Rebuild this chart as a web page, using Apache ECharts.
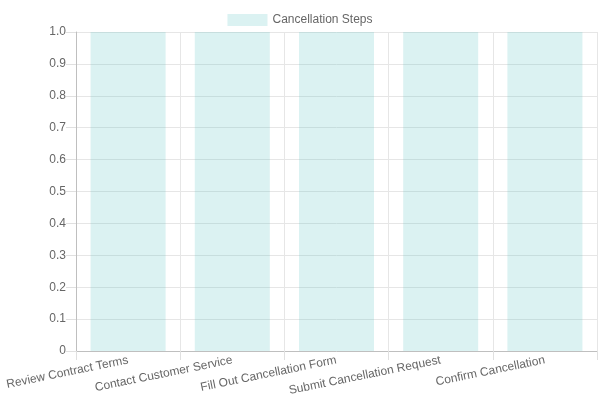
<!DOCTYPE html>
<html>
<head>
<meta charset="utf-8">
<script src="https://cdn.jsdelivr.net/npm/echarts@6/dist/echarts.min.js"></script>
<style>html,body{margin:0;padding:0;background:#fff}#c{width:600px;height:400px}</style>
</head>
<body>
<div id="c"></div>
<script>
const categories = ["Review Contract Terms", "Contact Customer Service", "Fill Out Cancellation Form", "Submit Cancellation Request", "Confirm Cancellation"];
const seriesName = "Cancellation Steps";
const values = [1, 1, 1, 1, 1];

const chart = echarts.init(document.getElementById('c'), null, {renderer: 'canvas'});
const font = 'Liberation Sans, Arial, Helvetica, sans-serif';
chart.setOption({
  animation: false,
  textStyle: {fontFamily: font},
  legend: {
    top: 9, left: 'center',
    itemWidth: 40, itemHeight: 12, itemGap: 10,
    icon: 'rect',
    textStyle: {color: '#666', fontSize: 12, fontFamily: font},
    data: [seriesName]
  },
  grid: {left: 76, right: 3, top: 32, bottom: 49, containLabel: false},
  xAxis: {
    type: 'category',
    data: categories,
    boundaryGap: true,
    axisLine: {show: true, lineStyle: {color: '#bfbfbf'}},
    axisTick: {show: true, length: 9, alignWithLabel: false, lineStyle: {color: '#e0e0e0'}},
    splitLine: {show: true, lineStyle: {color: '#e6e6e6'}},
    axisLabel: {rotate: 11.5, color: '#666', fontSize: 12, fontFamily: font, margin: 9, interval: 0}
  },
  yAxis: {
    type: 'value', min: 0, max: 1, interval: 0.1,
    axisLine: {show: true, lineStyle: {color: '#bfbfbf'}},
    axisTick: {show: true, length: 10, lineStyle: {color: '#e0e0e0'}},
    splitLine: {show: true, lineStyle: {color: '#e6e6e6'}},
    axisLabel: {color: '#666', fontSize: 12, fontFamily: font, margin: 10,
      formatter: v => v === 0 ? '0' : v.toFixed(1)}
  },
  series: [{
    name: seriesName,
    type: 'bar',
    data: values,
    barCategoryGap: '28%',
    itemStyle: {color: 'rgba(75,192,192,0.2)'}
  }]
});
</script>
</body>
</html>
